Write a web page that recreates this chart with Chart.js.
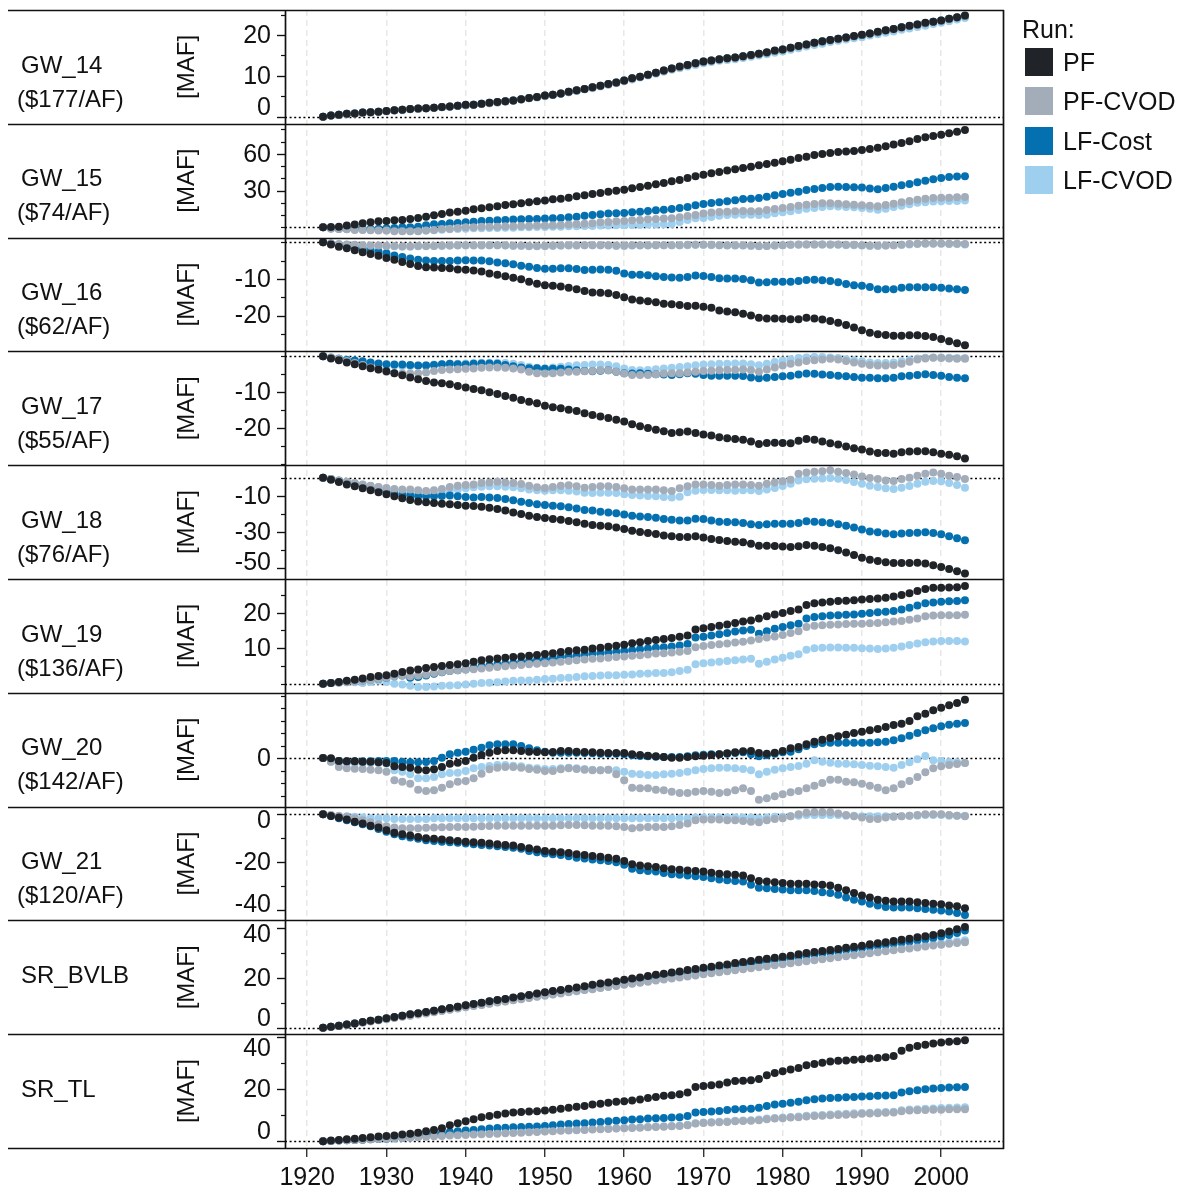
<!DOCTYPE html>
<html>
<head>
<meta charset="utf-8">
<script src="https://cdn.jsdelivr.net/npm/chart.js@4.4.0/dist/chart.umd.min.js"></script>
<style>
  body { margin: 0; background: #fff; }
  #wrap { position: relative; width: 1183px; height: 1189px; }
  #legend { position: absolute; left: 1022px; top: 0; font: 25px "Liberation Sans", Arial, sans-serif; color: #111; }
  #legend .title { position: absolute; left: 0; top: 14px; line-height: 30px; white-space: nowrap; }
  #legend .item { position: absolute; left: 3px; height: 28px; line-height: 28px; white-space: nowrap; }
  #legend .box { display: inline-block; width: 28px; height: 28px; vertical-align: top; margin-right: 10px; }
</style>
</head>
<body>
<div id="wrap">
  <canvas id="chart" width="1183" height="1189"></canvas>
  <div id="legend"></div>
</div>
<script>
// water years 1922-2003
const years = Array.from({ length: 82 }, (_, j) => 1922 + j);
const xTicks = [1920, 1930, 1940, 1950, 1960, 1970, 1980, 1990, 2000];

const runNames = ["PF", "PF-CVOD", "LF-Cost", "LF-CVOD"];
const runColors = ["#202428", "#a3acb9", "#0570b0", "#9ecfee"];

const panelNames = ["GW_14", "GW_15", "GW_16", "GW_17", "GW_18", "GW_19", "GW_20", "GW_21", "SR_BVLB", "SR_TL"];
const panelCosts = ["($177/AF)", "($74/AF)", "($62/AF)", "($55/AF)", "($76/AF)", "($136/AF)", "($142/AF)", "($120/AF)", "", ""];
const yMin = [-1.74, -8.4, -29.8, -30.4, -56.0, -2.56, -19.4, -44.5, -2.6, -2.57];
const yMax = [26.15, 84.5, 1.28, 1.37, 6.9, 29.5, 26.1, 3.2, 43.1, 41.0];
const yLabels = [[0, 10, 20], [30, 60], [-10, -20], [-10, -20], [-10, -30, -50], [10, 20], [0], [0, -20, -40], [0, 20, 40], [0, 20, 40]];
const yMinorStep = [5, 10, 5, 5, 10, 5, 5, 10, 10, 10];

// cumulative change [MAF], one value per year
const gw14_pf = [0.0,0.3,0.5,0.7,0.8,1.0,1.1,1.2,1.4,1.6,
  1.7,1.9,2.0,2.1,2.2,2.4,2.5,2.7,2.9,2.9,
  3.2,3.4,3.6,3.8,4.0,4.3,4.6,4.8,5.2,5.4,
  5.7,6.1,6.5,6.8,7.2,7.6,8.0,8.4,8.9,9.4,
  9.8,10.3,10.8,11.3,11.8,12.3,12.7,13.1,13.5,13.8,
  14.1,14.3,14.5,14.8,15.1,15.4,15.8,16.2,16.5,16.9,
  17.3,17.7,18.1,18.5,18.8,19.1,19.4,19.8,20.1,20.4,
  20.8,21.2,21.5,21.9,22.3,22.6,23.0,23.3,23.6,24.0,
  24.4,24.8];
const gw14_pfcvod = [0.0,0.3,0.5,0.6,0.8,0.9,1.1,1.2,1.4,1.5,
  1.7,1.8,1.9,2.1,2.2,2.3,2.5,2.7,2.8,2.9,
  3.1,3.3,3.5,3.7,4.0,4.2,4.5,4.8,5.1,5.4,
  5.7,6.0,6.4,6.7,7.1,7.5,7.9,8.3,8.8,9.3,
  9.7,10.2,10.7,11.2,11.7,12.1,12.6,13.0,13.4,13.7,
  14.0,14.2,14.4,14.7,15.0,15.3,15.7,16.1,16.4,16.8,
  17.2,17.6,18.0,18.4,18.7,19.0,19.3,19.7,20.0,20.3,
  20.7,21.1,21.4,21.8,22.2,22.5,22.9,23.2,23.5,23.9,
  24.3,24.7];
const gw14_lfcost = [0.0,0.3,0.5,0.7,0.8,1.0,1.1,1.2,1.4,1.6,
  1.7,1.9,2.0,2.1,2.2,2.4,2.5,2.7,2.8,2.9,
  3.2,3.4,3.6,3.8,4.0,4.3,4.6,4.8,5.2,5.4,
  5.7,6.1,6.4,6.8,7.2,7.6,8.0,8.4,8.9,9.4,
  9.8,10.3,10.8,11.3,11.8,12.2,12.7,13.1,13.5,13.8,
  14.0,14.3,14.5,14.8,15.1,15.4,15.7,16.1,16.5,16.9,
  17.3,17.7,18.1,18.4,18.8,19.1,19.4,19.7,20.0,20.4,
  20.7,21.1,21.5,21.9,22.2,22.6,22.9,23.3,23.6,24.0,
  24.3,24.7];
const gw14_lfcvod = [0.0,0.3,0.5,0.6,0.8,0.9,1.1,1.2,1.3,1.5,
  1.6,1.8,1.9,2.0,2.2,2.3,2.4,2.6,2.8,2.9,
  3.1,3.3,3.5,3.7,3.9,4.2,4.5,4.7,5.0,5.3,
  5.6,6.0,6.3,6.7,7.0,7.4,7.8,8.2,8.7,9.1,
  9.6,10.1,10.5,11.0,11.5,11.9,12.3,12.7,13.1,13.4,
  13.7,13.9,14.1,14.4,14.7,15.0,15.3,15.7,16.0,16.4,
  16.8,17.2,17.6,17.9,18.3,18.6,18.9,19.2,19.5,19.9,
  20.2,20.6,20.9,21.3,21.6,22.0,22.3,22.7,23.0,23.4,
  23.8,24.2];

const gw15_pf = [0.0,0.3,0.5,1.4,2.2,3.3,4.1,4.9,5.2,5.7,
  6.0,6.8,7.6,8.7,9.8,10.9,12.0,12.8,13.6,14.7,
  15.5,16.3,17.1,18.2,18.8,19.6,20.4,21.2,21.8,22.9,
  23.4,24.2,25.3,26.1,27.2,28.0,29.1,29.9,30.7,31.8,
  32.9,34.0,35.1,36.2,37.6,38.6,40.3,41.6,43.0,44.1,
  45.2,46.3,47.3,48.4,49.5,50.6,51.7,52.8,53.9,55.2,
  56.6,57.7,59.0,59.9,60.7,61.5,61.8,62.3,63.1,63.9,
  65.0,66.1,67.5,68.8,70.2,72.1,73.5,74.6,75.6,76.7,
  78.1,79.5];
const gw15_pfcvod = [0.0,-1.1,-1.4,-1.6,-2.2,-2.2,-2.4,-2.7,-2.7,-3.3,
  -3.3,-3.3,-3.3,-2.7,-2.2,-1.4,-1.1,-0.5,0.0,0.0,
  0.5,0.5,0.5,0.8,0.8,1.1,1.1,1.4,1.4,1.6,
  1.9,2.2,2.7,3.0,3.3,4.1,4.4,4.9,5.2,5.7,
  6.0,6.5,6.8,7.1,7.3,8.2,9.3,10.1,11.2,12.0,
  12.5,12.8,13.1,13.3,13.1,13.1,14.1,15.0,15.8,16.6,
  17.7,18.5,19.0,19.6,19.6,19.3,18.8,18.5,18.0,17.7,
  17.1,18.2,19.3,20.4,21.5,22.6,23.4,23.9,24.2,24.2,
  24.5,24.8];
const gw15_lfcost = [0.0,-0.8,-1.1,-1.1,-1.1,-1.1,-1.4,-1.1,-0.8,-0.5,
  0.0,0.0,0.5,1.6,2.4,2.7,3.3,3.5,4.1,4.6,
  5.2,5.4,5.7,6.0,6.3,6.5,6.8,6.8,7.1,7.3,
  7.6,8.2,8.7,9.5,10.1,10.6,11.2,11.4,11.7,12.2,
  12.8,13.3,13.9,14.4,15.0,15.8,16.6,18.0,19.0,19.9,
  20.4,21.2,22.0,23.1,23.4,23.9,25.0,26.1,27.2,28.3,
  29.1,30.5,31.3,32.1,32.9,33.2,32.9,32.7,32.4,31.6,
  31.0,32.1,33.2,34.3,35.4,36.7,38.1,39.2,40.3,41.1,
  41.4,41.6];
const gw15_lfcvod = [0.0,-0.8,-1.1,-1.4,-1.6,-1.9,-2.2,-2.4,-2.7,-2.7,
  -3.0,-3.0,-3.0,-2.7,-2.4,-1.9,-1.6,-1.4,-1.1,-0.8,
  -0.8,-0.5,-0.5,-0.3,-0.3,0.0,0.0,0.3,0.3,0.5,
  0.5,0.8,0.8,1.1,1.1,1.4,1.4,1.6,1.6,1.9,
  1.9,2.2,2.2,2.4,2.7,4.4,6.0,7.3,7.6,8.4,
  9.5,10.1,10.3,10.3,10.3,10.1,10.3,11.4,12.2,13.1,
  14.1,15.2,15.8,16.6,17.1,16.9,16.6,16.3,15.8,15.2,
  14.4,15.2,16.6,17.7,18.8,20.0,20.4,21.0,21.2,21.5,
  21.5,21.8];

const gw16_pf = [0.0,-0.6,-1.2,-1.6,-2.2,-2.7,-3.2,-3.7,-4.3,-4.8,
  -5.4,-5.9,-6.5,-6.8,-6.9,-7.0,-7.1,-7.4,-7.5,-7.7,
  -8.0,-8.5,-8.9,-9.3,-9.7,-10.1,-10.8,-11.3,-11.7,-11.9,
  -12.1,-12.4,-12.8,-13.3,-13.7,-13.8,-13.9,-14.4,-15.0,-15.6,
  -15.9,-16.1,-16.4,-16.8,-16.9,-17.1,-17.4,-17.3,-17.6,-17.9,
  -18.6,-18.9,-19.1,-19.5,-20.0,-20.6,-20.8,-20.8,-20.9,-21.0,
  -21.0,-20.6,-20.8,-21.1,-21.5,-22.0,-22.6,-23.3,-24.0,-24.7,
  -25.1,-25.3,-25.5,-25.5,-25.4,-25.4,-25.6,-25.9,-26.4,-27.0,
  -27.6,-28.1];
const gw16_pfcvod = [0.0,-0.3,-0.5,-0.6,-0.7,-0.8,-0.9,-0.9,-1.0,-1.0,
  -1.1,-1.1,-1.0,-1.0,-1.0,-0.9,-0.9,-0.8,-0.8,-0.8,
  -0.8,-0.8,-0.8,-0.8,-0.9,-0.9,-1.0,-1.0,-1.0,-0.9,
  -0.9,-0.8,-0.8,-0.8,-0.8,-0.8,-0.8,-0.9,-0.9,-0.8,
  -0.8,-0.8,-0.8,-0.8,-0.8,-0.8,-0.7,-0.7,-0.7,-0.7,
  -0.8,-0.8,-0.8,-0.8,-0.9,-1.0,-1.0,-0.9,-0.8,-0.7,
  -0.6,-0.6,-0.6,-0.6,-0.6,-0.6,-0.7,-0.7,-0.8,-0.9,
  -0.9,-0.9,-0.8,-0.7,-0.5,-0.4,-0.3,-0.3,-0.3,-0.4,
  -0.4,-0.5];
const gw16_lfcost = [0.0,-0.4,-0.7,-1.1,-1.5,-1.8,-2.2,-2.6,-3.0,-3.6,
  -4.0,-4.4,-4.8,-5.0,-5.1,-5.1,-5.1,-5.0,-4.9,-5.0,
  -5.0,-5.2,-5.5,-5.7,-6.0,-6.4,-6.7,-7.0,-7.2,-7.2,
  -7.1,-7.1,-7.3,-7.6,-7.5,-7.4,-7.5,-7.8,-8.5,-8.9,
  -8.9,-9.0,-9.3,-9.5,-9.6,-9.7,-9.5,-9.1,-9.2,-9.5,
  -9.8,-9.9,-9.9,-10.0,-10.4,-11.0,-10.9,-10.8,-10.8,-10.8,
  -10.6,-10.3,-10.2,-10.4,-10.6,-10.9,-11.4,-11.7,-11.9,-12.2,
  -12.8,-12.8,-12.8,-12.4,-12.3,-12.3,-12.3,-12.3,-12.4,-12.6,
  -12.8,-13.0];
const gw16_lfcvod = [0.0,-0.3,-0.6,-0.7,-0.8,-0.9,-1.0,-1.0,-1.1,-1.1,
  -1.2,-1.2,-1.1,-1.1,-1.0,-1.0,-0.9,-0.9,-0.9,-0.9,
  -0.9,-0.8,-0.8,-0.9,-1.0,-1.0,-1.1,-1.1,-1.0,-1.0,
  -0.9,-0.9,-0.9,-0.8,-0.8,-0.8,-0.9,-1.0,-1.0,-0.9,
  -0.9,-0.9,-0.8,-0.8,-0.8,-0.8,-0.8,-0.7,-0.7,-0.8,
  -0.8,-0.9,-0.9,-0.9,-1.0,-1.1,-1.0,-0.9,-0.8,-0.7,
  -0.7,-0.6,-0.6,-0.6,-0.7,-0.7,-0.8,-0.8,-0.9,-1.0,
  -1.0,-0.9,-0.8,-0.7,-0.6,-0.5,-0.4,-0.4,-0.4,-0.5,
  -0.5,-0.6];

const gw17_pf = [0.0,-0.6,-1.1,-1.7,-2.2,-2.8,-3.3,-3.7,-4.2,-4.7,
  -5.3,-5.9,-6.4,-6.9,-7.3,-7.5,-7.8,-8.3,-8.7,-9.1,
  -9.5,-10.0,-10.5,-11.1,-11.6,-12.2,-12.7,-13.1,-13.8,-14.2,
  -14.5,-14.9,-15.3,-15.9,-16.4,-16.8,-17.2,-17.7,-18.2,-19.0,
  -19.5,-20.0,-20.5,-20.9,-21.4,-21.2,-21.0,-21.4,-21.8,-22.1,
  -22.6,-22.9,-23.1,-23.3,-23.8,-24.5,-24.2,-24.1,-24.2,-24.3,
  -23.6,-23.1,-23.3,-23.8,-24.3,-24.6,-25.2,-25.7,-26.0,-26.6,
  -27.0,-27.0,-27.2,-26.8,-26.6,-26.5,-26.5,-26.8,-27.2,-27.5,
  -27.9,-28.5];
const gw17_pfcvod = [0.0,-0.3,-0.7,-1.3,-1.9,-2.4,-3.1,-3.7,-4.3,-4.7,
  -4.8,-4.8,-4.7,-4.5,-4.1,-3.8,-3.7,-3.6,-3.5,-3.4,
  -3.2,-3.1,-3.1,-3.2,-3.4,-3.7,-4.3,-4.7,-4.8,-4.7,
  -4.5,-4.3,-4.3,-4.2,-4.1,-3.9,-3.9,-4.3,-4.8,-5.2,
  -5.2,-5.2,-5.0,-4.8,-4.7,-4.7,-4.5,-4.3,-4.1,-4.0,
  -3.9,-3.8,-3.8,-3.7,-3.9,-4.3,-3.7,-3.1,-2.6,-2.1,
  -1.7,-1.3,-1.1,-0.9,-0.7,-0.9,-1.3,-1.7,-2.1,-2.4,
  -2.6,-2.6,-2.4,-2.1,-1.5,-0.9,-0.6,-0.4,-0.5,-0.6,
  -0.7,-0.7];
const gw17_lfcost = [0.0,-0.4,-0.7,-1.0,-1.2,-1.4,-1.7,-2.0,-2.2,-2.3,
  -2.3,-2.4,-2.6,-2.6,-2.4,-2.2,-2.1,-2.2,-2.3,-2.1,
  -2.0,-2.0,-2.1,-2.4,-2.8,-3.1,-3.3,-3.3,-3.5,-3.5,
  -3.5,-3.7,-3.9,-4.1,-4.2,-4.0,-3.9,-4.3,-4.7,-4.8,
  -4.7,-4.9,-5.0,-5.1,-5.2,-5.0,-4.7,-4.9,-5.2,-5.4,
  -5.4,-5.4,-5.4,-5.5,-5.9,-6.1,-6.0,-5.8,-5.6,-5.4,
  -5.1,-4.8,-4.9,-5.1,-5.2,-5.4,-5.6,-5.8,-6.0,-6.0,
  -6.1,-6.1,-6.0,-5.6,-5.4,-5.2,-5.0,-5.2,-5.4,-5.8,
  -6.0,-6.1];
const gw17_lfcvod = [0.0,-0.3,-0.6,-0.9,-1.2,-1.5,-1.8,-2.1,-2.4,-2.6,
  -2.7,-2.7,-2.6,-2.5,-2.3,-2.2,-2.1,-2.1,-2.0,-1.9,
  -1.8,-1.8,-1.8,-1.9,-2.1,-2.4,-2.9,-3.2,-3.3,-3.1,
  -2.9,-2.7,-2.5,-2.4,-2.3,-2.3,-2.4,-2.8,-3.4,-3.8,
  -3.9,-3.8,-3.6,-3.4,-3.2,-3.0,-2.8,-2.5,-2.3,-2.2,
  -2.1,-2.1,-2.0,-2.0,-2.2,-2.5,-2.1,-1.6,-1.2,-0.8,
  -0.5,-0.3,-0.2,-0.2,-0.3,-0.5,-0.8,-1.1,-1.4,-1.7,
  -1.9,-1.9,-1.7,-1.4,-1.0,-0.6,-0.4,-0.3,-0.3,-0.4,
  -0.5,-0.5];

const gw18_pf = [0.0,-1.1,-2.4,-3.7,-4.8,-5.9,-7.0,-8.1,-9.2,-10.3,
  -11.4,-12.3,-13.1,-13.6,-14.0,-14.4,-14.7,-15.1,-15.5,-15.7,
  -16.0,-16.6,-17.3,-18.2,-19.2,-20.1,-21.0,-21.7,-22.3,-22.8,
  -23.2,-23.9,-24.7,-25.4,-26.2,-26.5,-26.9,-27.6,-28.4,-29.3,
  -30.0,-30.6,-31.1,-31.9,-32.4,-32.8,-32.8,-32.4,-33.1,-33.9,
  -34.4,-35.0,-35.4,-35.7,-36.5,-37.6,-37.6,-37.8,-38.1,-38.3,
  -37.9,-37.2,-37.6,-38.3,-39.0,-40.1,-41.3,-42.7,-44.2,-45.3,
  -46.0,-46.8,-47.1,-47.1,-47.1,-47.0,-47.5,-48.4,-49.4,-50.5,
  -51.7,-53.0];
const gw18_pfcvod = [0.0,-0.7,-1.5,-2.2,-2.9,-3.7,-4.4,-5.2,-5.7,-6.3,
  -6.6,-6.6,-7.0,-7.4,-7.0,-6.3,-5.2,-4.4,-4.1,-3.7,
  -2.9,-2.6,-2.2,-2.6,-2.9,-3.5,-4.4,-5.3,-5.7,-5.2,
  -4.4,-4.2,-4.8,-5.5,-5.2,-4.8,-4.8,-5.2,-5.9,-6.6,
  -6.6,-6.6,-6.6,-7.0,-7.4,-5.9,-4.8,-3.7,-3.7,-4.1,
  -4.4,-4.1,-3.7,-3.7,-4.1,-4.4,-3.3,-2.6,-2.0,-1.1,
  2.2,2.9,3.3,3.5,4.1,3.3,2.6,1.8,0.7,-0.2,
  -0.7,-1.5,-1.8,-0.7,0.0,1.1,2.2,2.9,2.2,1.1,
  0.4,-0.7];
const gw18_lfcost = [0.0,-0.7,-1.7,-2.6,-3.7,-4.8,-5.9,-7.0,-7.9,-8.8,
  -9.6,-9.9,-10.3,-10.3,-10.3,-10.1,-9.9,-10.3,-10.7,-10.9,
  -10.7,-10.9,-11.2,-11.8,-12.5,-13.3,-14.0,-14.7,-15.1,-15.5,
  -15.8,-16.4,-17.1,-17.9,-18.2,-18.8,-19.2,-19.7,-20.4,-21.0,
  -21.4,-21.7,-22.1,-22.8,-23.2,-23.6,-23.6,-22.7,-22.8,-23.6,
  -24.3,-24.5,-24.7,-25.0,-25.8,-26.2,-25.8,-25.4,-25.4,-25.4,
  -25.0,-24.1,-24.3,-24.7,-25.0,-25.8,-26.5,-27.6,-28.7,-29.7,
  -30.2,-30.9,-31.3,-30.9,-30.6,-30.4,-30.2,-30.6,-31.3,-32.4,
  -33.5,-34.6];
const gw18_lfcvod = [0.0,-0.7,-1.5,-2.4,-3.1,-3.9,-4.6,-5.3,-6.1,-6.8,
  -7.4,-8.1,-8.8,-9.2,-9.0,-8.3,-7.4,-6.6,-5.9,-5.3,
  -5.0,-4.8,-4.8,-5.0,-5.3,-5.9,-6.6,-7.0,-7.2,-7.0,
  -7.0,-7.2,-7.7,-8.3,-8.5,-8.3,-8.3,-8.5,-9.2,-9.6,
  -9.9,-10.1,-10.3,-10.7,-10.9,-10.5,-8.1,-7.2,-6.8,-6.8,
  -7.0,-7.0,-7.2,-7.0,-7.0,-7.4,-6.6,-5.7,-4.6,-3.3,
  -1.5,-0.9,-0.6,-0.4,-0.2,-0.6,-1.3,-2.4,-3.3,-4.4,
  -5.2,-5.9,-6.3,-5.5,-4.6,-3.3,-2.2,-1.8,-2.0,-2.9,
  -4.0,-5.5];

const gw19_pf = [0.0,0.2,0.5,0.8,1.1,1.5,1.9,2.2,2.4,2.8,
  3.3,3.7,4.0,4.4,4.7,5.0,5.3,5.5,5.8,6.2,
  6.6,6.9,7.1,7.3,7.5,7.7,7.9,8.1,8.4,8.6,
  8.9,9.2,9.4,9.6,9.9,10.1,10.4,10.7,11.0,11.4,
  11.7,12.0,12.3,12.6,12.9,13.2,13.6,15.3,15.6,16.0,
  16.3,16.7,17.1,17.5,17.8,18.4,19.0,19.5,19.9,20.5,
  20.9,22.2,22.7,22.9,23.1,23.3,23.4,23.5,23.7,23.9,
  24.0,24.2,24.6,25.0,25.5,26.1,26.7,27.0,27.0,27.1,
  27.2,27.5];
const gw19_pfcvod = [0.0,0.2,0.3,0.4,0.6,0.8,1.0,1.3,1.7,2.1,
  2.3,2.1,2.3,2.6,3.0,3.3,3.6,3.8,3.9,4.1,
  4.3,4.5,4.7,4.9,5.1,5.3,5.5,5.6,5.8,6.0,
  6.2,6.4,6.6,6.8,7.0,7.1,7.3,7.5,7.7,7.9,
  8.0,8.2,8.5,8.6,8.8,9.0,9.2,10.3,10.6,10.9,
  11.1,11.3,11.6,11.8,12.2,12.6,13.0,13.3,13.7,14.3,
  14.8,16.0,16.3,16.5,16.6,16.7,16.8,16.9,16.9,17.0,
  17.1,17.3,17.5,17.7,18.0,18.4,19.0,19.2,19.3,19.3,
  19.3,19.4];
const gw19_lfcost = [0.0,0.2,0.4,0.6,0.8,0.9,1.1,1.3,1.7,2.1,
  2.3,1.7,1.9,2.3,2.8,3.2,3.6,3.8,4.1,4.5,
  4.9,5.1,5.4,5.6,5.8,6.1,6.4,6.6,6.8,7.1,
  7.5,7.7,7.9,8.2,8.5,8.6,8.8,9.0,9.2,9.4,
  9.7,9.9,10.1,10.3,10.5,10.8,11.2,13.0,13.2,13.6,
  13.9,14.3,14.7,15.0,15.2,14.1,14.8,15.5,16.0,16.5,
  16.9,18.4,18.8,19.0,19.2,19.3,19.4,19.5,19.7,19.9,
  20.1,20.3,20.5,20.9,21.4,22.0,22.7,22.9,23.1,23.2,
  23.3,23.5];
const gw19_lfcvod = [0.0,0.2,0.3,0.4,0.4,0.2,0.5,0.8,0.5,0.0,
  -0.2,-0.6,-0.9,-0.9,-0.8,-0.6,-0.5,-0.4,-0.2,0.0,
  0.2,0.3,0.4,0.6,0.8,0.9,0.9,1.1,1.3,1.4,
  1.6,1.7,1.9,2.1,2.2,2.3,2.4,2.4,2.5,2.6,
  2.8,2.9,3.0,3.0,3.2,3.6,3.9,5.5,5.8,6.0,
  6.2,6.4,6.6,6.8,7.0,5.6,6.2,6.8,7.3,7.9,
  8.3,9.6,10.0,10.1,10.2,10.2,10.1,10.1,10.0,9.9,
  9.8,9.9,10.1,10.5,10.9,11.3,11.7,11.9,12.0,12.0,
  12.0,11.9];

const gw20_pf = [0.0,-0.1,-1.2,-1.3,-1.3,-1.5,-1.5,-1.7,-2.0,-3.3,
  -3.6,-3.9,-4.7,-4.9,-4.5,-3.6,-2.3,-1.9,-1.2,0.1,
  1.2,2.1,2.8,3.1,3.1,2.8,2.5,2.4,2.3,2.4,
  2.8,2.8,2.5,2.4,2.3,2.1,2.0,2.0,2.0,1.5,
  1.2,0.9,0.7,0.4,0.1,0.1,0.4,0.7,0.9,1.2,
  1.5,1.9,2.3,2.7,2.8,2.0,1.7,2.1,2.8,3.9,
  4.4,5.5,6.5,7.3,8.0,8.7,9.3,10.0,10.5,11.1,
  11.6,12.4,13.2,13.7,14.8,16.7,17.7,19.1,20.1,21.1,
  22.0,23.3];
const gw20_pfcvod = [0.0,-1.5,-3.6,-4.1,-4.3,-4.4,-4.7,-4.9,-5.5,-8.9,
  -9.5,-10.3,-12.7,-13.2,-12.9,-11.9,-10.5,-9.5,-9.2,-8.1,
  -6.3,-4.5,-3.9,-3.6,-3.6,-3.9,-4.4,-4.7,-5.2,-5.2,
  -4.5,-4.1,-4.4,-4.7,-4.9,-4.9,-4.7,-6.5,-8.9,-11.9,
  -12.1,-12.1,-12.7,-12.9,-13.5,-14.0,-14.0,-13.5,-13.2,-13.5,
  -14.0,-13.7,-12.9,-12.1,-13.2,-16.7,-16.1,-15.3,-14.5,-13.7,
  -13.2,-12.1,-11.1,-10.0,-8.7,-8.7,-9.5,-9.7,-10.3,-11.1,
  -11.9,-12.9,-12.1,-10.5,-9.2,-7.6,-5.7,-4.1,-3.3,-2.8,
  -2.4,-2.0];
const gw20_lfcost = [0.0,-0.5,-1.2,-1.3,-1.3,-1.3,-1.3,-1.2,-1.2,-1.2,
  -1.5,-1.7,-1.7,-1.6,-1.2,0.1,1.5,2.1,2.5,3.3,
  4.1,5.1,5.5,5.5,5.5,4.8,3.9,3.1,2.5,2.1,
  2.1,2.1,2.1,2.0,1.9,1.7,1.7,1.7,1.5,1.1,
  0.8,0.7,0.5,0.4,0.4,0.4,0.7,1.1,1.3,1.5,
  1.5,1.7,2.0,2.3,1.5,0.7,1.1,1.7,2.3,2.5,
  3.5,4.8,5.5,6.0,6.1,6.1,6.1,6.1,6.1,6.1,
  6.3,6.5,7.1,7.9,8.9,10.0,11.1,11.9,12.7,13.3,
  13.7,14.0];
const gw20_lfcvod = [0.0,-1.5,-1.9,-2.0,-2.0,-2.0,-2.0,-2.0,-2.3,-4.9,
  -5.5,-6.5,-8.1,-8.1,-7.6,-6.5,-6.0,-5.9,-5.2,-4.1,
  -3.6,-3.2,-2.8,-2.8,-3.1,-3.3,-3.9,-4.1,-4.4,-4.4,
  -4.1,-3.9,-4.1,-4.4,-4.7,-4.9,-4.7,-4.9,-5.5,-6.3,
  -6.5,-6.8,-6.8,-6.5,-6.3,-6.0,-5.5,-4.9,-4.4,-4.1,
  -3.9,-3.9,-4.1,-4.4,-4.9,-6.5,-5.5,-4.7,-4.1,-3.6,
  -3.2,-2.3,-0.9,-1.5,-1.9,-2.3,-2.3,-2.5,-2.8,-3.1,
  -3.3,-3.6,-3.9,-2.8,-1.7,-0.5,0.8,-0.9,-1.2,-1.6,
  -1.7,-2.0];

const gw21_pf = [0.0,-0.7,-1.4,-2.2,-3.1,-3.9,-4.8,-5.6,-6.7,-7.8,
  -8.4,-8.9,-9.5,-10.1,-10.3,-10.6,-10.9,-11.2,-11.5,-11.7,
  -12.0,-12.3,-12.6,-12.9,-13.1,-13.7,-14.3,-14.8,-15.4,-15.7,
  -15.9,-16.2,-16.8,-17.1,-17.5,-17.8,-18.2,-18.7,-19.6,-21.0,
  -21.5,-21.8,-22.1,-22.6,-23.1,-23.3,-23.6,-23.8,-24.0,-24.5,
  -24.9,-25.2,-25.4,-25.7,-26.8,-28.0,-28.2,-28.5,-28.8,-29.1,
  -29.1,-29.1,-29.4,-29.6,-29.9,-30.8,-31.9,-33.0,-34.1,-34.9,
  -35.8,-36.3,-36.6,-36.6,-36.6,-36.9,-37.2,-37.5,-37.7,-38.3,
  -38.6,-39.4];
const gw21_pfcvod = [0.0,-0.3,-0.7,-1.1,-1.7,-2.5,-3.4,-4.2,-5.0,-5.6,
  -5.9,-5.9,-5.9,-5.7,-5.6,-5.5,-5.3,-5.3,-5.3,-5.2,
  -5.0,-4.9,-4.8,-4.8,-4.8,-4.8,-4.8,-4.8,-4.8,-4.8,
  -4.6,-4.5,-4.5,-4.6,-4.8,-4.8,-4.8,-5.0,-5.3,-5.9,
  -5.6,-5.3,-5.3,-5.3,-5.0,-4.5,-3.9,-2.5,-2.2,-2.2,
  -2.2,-2.5,-2.5,-2.8,-3.1,-3.4,-2.5,-2.0,-1.7,-0.8,
  0.0,0.6,0.8,0.8,0.8,0.3,-0.3,-0.8,-1.4,-2.0,
  -2.0,-1.4,-1.1,-0.8,-0.6,-0.3,0.0,0.0,0.0,-0.3,
  -0.6,-0.8];
const gw21_lfcost = [0.0,-0.7,-1.7,-2.5,-3.4,-4.2,-5.0,-6.2,-7.3,-8.4,
  -9.2,-9.8,-10.3,-10.9,-11.2,-11.5,-11.7,-12.0,-12.3,-12.6,
  -12.9,-13.1,-13.4,-13.7,-14.0,-14.5,-15.4,-15.9,-16.5,-16.8,
  -17.1,-17.6,-18.2,-18.6,-19.0,-19.3,-19.6,-20.1,-21.2,-22.9,
  -23.5,-23.8,-24.0,-24.6,-25.2,-25.4,-25.7,-26.0,-26.3,-26.8,
  -27.4,-27.7,-28.0,-28.2,-29.6,-30.8,-31.0,-31.3,-31.6,-31.9,
  -31.9,-31.9,-32.2,-32.7,-33.0,-33.8,-34.9,-35.8,-36.6,-37.5,
  -38.3,-38.9,-39.1,-39.1,-39.1,-39.4,-39.7,-40.0,-40.3,-40.8,
  -41.4,-42.2];
const gw21_lfcvod = [0.0,-0.3,-0.6,-0.8,-1.1,-1.4,-1.7,-1.7,-1.7,-2.0,
  -2.0,-2.0,-2.0,-2.0,-1.7,-1.7,-1.7,-1.7,-1.7,-1.7,
  -1.7,-1.7,-1.7,-1.7,-1.7,-1.7,-1.7,-1.7,-1.7,-1.7,
  -1.7,-1.7,-1.7,-1.7,-1.7,-1.7,-1.7,-1.7,-1.7,-1.7,
  -1.7,-1.7,-1.7,-1.7,-1.7,-1.7,-1.7,-1.4,-1.4,-1.4,
  -1.4,-1.4,-1.4,-1.4,-1.4,-1.7,-1.4,-1.1,-1.1,-0.8,
  -0.6,-0.3,-0.3,-0.3,-0.3,-0.3,-0.6,-0.6,-0.8,-0.8,
  -0.8,-0.8,-0.8,-0.8,-0.6,-0.6,-0.3,-0.3,-0.3,-0.6,
  -0.6,-0.6];

const bvlb_pf = [0.0,0.4,0.8,1.3,1.7,2.3,2.8,3.2,3.8,4.3,
  4.8,5.4,5.8,6.3,6.8,7.4,7.9,8.4,9.0,9.5,
  10.0,10.6,11.1,11.5,12.1,12.6,13.1,13.7,14.2,14.7,
  15.1,15.7,16.2,16.7,17.3,17.8,18.2,18.7,19.3,19.8,
  20.2,20.8,21.3,21.7,22.2,22.6,23.2,23.6,24.1,24.5,
  25.0,25.4,26.0,26.4,26.8,27.3,27.7,28.1,28.5,28.9,
  29.5,30.0,30.4,30.8,31.2,31.6,32.1,32.5,32.9,33.5,
  33.9,34.3,34.8,35.3,35.7,36.3,36.7,37.2,37.9,38.6,
  39.5,40.4];
const bvlb_pfcvod = [0.0,0.4,0.8,1.2,1.6,2.1,2.5,3.0,3.4,3.9,
  4.4,4.8,5.3,5.7,6.2,6.7,7.2,7.7,8.2,8.7,
  9.1,9.6,10.1,10.5,11.0,11.4,11.9,12.4,12.8,13.3,
  13.7,14.2,14.6,15.1,15.5,16.0,16.4,16.8,17.3,17.7,
  18.1,18.5,19.0,19.4,19.8,20.2,20.6,21.0,21.5,21.9,
  22.3,22.7,23.1,23.5,23.9,24.3,24.7,25.1,25.5,25.9,
  26.3,26.7,27.1,27.5,27.9,28.3,28.7,29.1,29.5,29.9,
  30.3,30.7,31.1,31.5,31.8,32.2,32.6,33.0,33.3,33.7,
  34.0,34.3];
const bvlb_lfcost = [0.0,0.4,0.8,1.3,1.7,2.2,2.8,3.2,3.7,4.2,
  4.8,5.3,5.7,6.2,6.8,7.3,7.8,8.4,8.9,9.4,
  9.9,10.5,11.0,11.4,11.9,12.4,13.0,13.5,14.0,14.5,
  14.9,15.4,15.9,16.4,16.9,17.4,17.8,18.3,18.8,19.3,
  19.7,20.2,20.7,21.1,21.6,22.0,22.5,22.9,23.4,23.8,
  24.3,24.7,25.2,25.6,26.0,26.5,26.9,27.3,27.7,28.1,
  28.6,29.1,29.5,29.9,30.3,30.7,31.2,31.6,32.0,32.5,
  32.9,33.3,33.8,34.2,34.6,35.1,35.5,36.0,36.6,37.2,
  38.0,39.0];
const bvlb_lfcvod = [0.0,0.4,0.8,1.2,1.7,2.1,2.6,3.0,3.5,4.0,
  4.5,4.9,5.4,5.9,6.3,6.8,7.3,7.8,8.3,8.8,
  9.2,9.7,10.2,10.6,11.1,11.6,12.0,12.5,13.0,13.4,
  13.9,14.3,14.8,15.2,15.7,16.1,16.6,17.0,17.5,17.9,
  18.3,18.8,19.2,19.6,20.1,20.5,20.9,21.4,21.8,22.2,
  22.6,23.0,23.5,23.9,24.3,24.7,25.1,25.5,25.9,26.3,
  26.7,27.1,27.5,27.9,28.3,28.7,29.1,29.5,29.9,30.3,
  30.7,31.1,31.5,31.9,32.3,32.7,33.1,33.5,33.9,34.3,
  34.7,35.1];

const tl_pf = [0.0,0.3,0.5,0.8,1.0,1.3,1.5,1.8,2.0,2.2,
  2.6,2.9,3.3,3.8,4.3,5.0,6.1,6.9,7.7,8.4,
  9.2,9.7,10.2,10.6,11.0,11.2,11.4,11.5,11.8,12.1,
  12.5,12.8,13.2,13.5,14.1,14.4,14.8,15.1,15.3,15.6,
  16.0,16.6,17.0,17.4,17.6,18.0,18.7,20.8,21.2,21.5,
  21.7,22.5,23.1,23.2,23.4,23.8,25.3,26.1,26.8,27.5,
  28.1,29.1,29.6,30.1,30.5,30.8,30.9,31.2,31.4,31.7,
  31.9,32.2,32.7,34.7,35.8,36.5,37.0,37.4,37.8,38.1,
  38.3,38.7];
const tl_pfcvod = [0.0,0.1,0.3,0.4,0.5,0.6,0.8,0.9,1.0,1.2,
  1.3,1.4,1.5,1.7,1.9,2.0,2.2,2.3,2.4,2.6,
  2.7,2.8,2.9,3.1,3.2,3.3,3.5,3.6,3.7,3.8,
  4.0,4.1,4.2,4.3,4.5,4.6,4.7,4.9,5.0,5.1,
  5.2,5.4,5.5,5.6,5.8,5.9,6.1,6.8,7.0,7.2,
  7.3,7.4,7.7,7.8,7.9,8.1,8.4,8.7,8.8,9.1,
  9.2,9.5,9.7,9.8,10.0,10.1,10.2,10.3,10.5,10.6,
  10.7,10.9,11.0,11.5,11.8,11.9,12.0,12.1,12.1,12.3,
  12.3,12.3];
const tl_lfcost = [0.0,0.1,0.3,0.4,0.5,0.6,0.8,0.9,1.0,1.2,
  1.3,1.5,1.8,2.2,2.7,3.1,3.6,3.8,4.1,4.3,
  4.6,4.9,5.1,5.2,5.4,5.5,5.6,5.7,5.9,6.1,
  6.4,6.6,6.8,6.9,7.2,7.4,7.7,7.9,8.1,8.3,
  8.4,8.7,8.8,8.9,9.1,9.2,9.7,11.0,11.2,11.4,
  11.6,12.0,12.3,12.4,12.5,12.8,13.5,14.1,14.4,14.8,
  15.1,15.7,16.1,16.4,16.6,16.7,16.9,17.0,17.1,17.2,
  17.4,17.5,17.6,18.7,19.2,19.5,19.9,20.2,20.4,20.6,
  20.7,20.8];
const tl_lfcvod = [0.0,0.1,0.3,0.4,0.5,0.6,0.8,0.9,1.0,1.2,
  1.3,1.5,1.7,1.9,2.1,2.3,2.5,2.6,2.8,2.9,
  3.0,3.2,3.3,3.4,3.5,3.6,3.7,3.8,3.9,4.0,
  4.2,4.3,4.4,4.5,4.7,4.8,4.9,5.0,5.2,5.3,
  5.4,5.5,5.7,5.8,5.9,6.0,6.3,6.9,7.2,7.3,
  7.5,7.6,7.9,8.0,8.1,8.3,8.7,8.9,9.1,9.3,
  9.5,9.8,10.0,10.1,10.3,10.4,10.5,10.7,10.8,10.9,
  11.1,11.2,11.3,11.9,12.2,12.3,12.5,12.6,12.7,12.8,
  12.9,13.0];

const panelSeries = [
  [gw14_pf, gw14_pfcvod, gw14_lfcost, gw14_lfcvod],
  [gw15_pf, gw15_pfcvod, gw15_lfcost, gw15_lfcvod],
  [gw16_pf, gw16_pfcvod, gw16_lfcost, gw16_lfcvod],
  [gw17_pf, gw17_pfcvod, gw17_lfcost, gw17_lfcvod],
  [gw18_pf, gw18_pfcvod, gw18_lfcost, gw18_lfcvod],
  [gw19_pf, gw19_pfcvod, gw19_lfcost, gw19_lfcvod],
  [gw20_pf, gw20_pfcvod, gw20_lfcost, gw20_lfcvod],
  [gw21_pf, gw21_pfcvod, gw21_lfcost, gw21_lfcvod],
  [bvlb_pf, bvlb_pfcvod, bvlb_lfcost, bvlb_lfcvod],
  [tl_pf, tl_pfcvod, tl_lfcost, tl_lfcvod],
];

const FONT = '"Liberation Sans", Arial, sans-serif';
const panelIds = panelNames.map((_, i) => "p" + i);

// zero lines, y ticks, strip labels and panel frames
const panelDecor = {
  id: "panelDecor",
  beforeDatasetsDraw(chart) {
    const { ctx, chartArea } = chart;
    ctx.save();
    ctx.strokeStyle = "#000";
    ctx.lineWidth = 1.6;
    ctx.setLineDash([2, 2.6]);
    panelIds.forEach((id) => {
      const s = chart.scales[id];
      const y = Math.round(s.getPixelForValue(0)) + 0.5;
      ctx.beginPath();
      ctx.moveTo(chartArea.left, y);
      ctx.lineTo(chartArea.right, y);
      ctx.stroke();
    });
    ctx.restore();
  },
  afterDraw(chart) {
    const { ctx, chartArea } = chart;
    const L = chartArea.left;
    ctx.save();
    ctx.fillStyle = "#111";
    ctx.strokeStyle = "#111";
    panelIds.forEach((id, i) => {
      const s = chart.scales[id];
      const mid = (s.top + s.bottom) / 2;

      // tick marks
      ctx.lineWidth = 1.2;
      const step = yMinorStep[i];
      for (let v = Math.ceil(s.min / step) * step; v <= s.max + 1e-9; v += step) {
        const y = Math.round(s.getPixelForValue(v)) + 0.5;
        const len = yLabels[i].some((t) => Math.abs(t - v) < 1e-6) ? 8 : 4;
        ctx.beginPath();
        ctx.moveTo(L - len, y);
        ctx.lineTo(L, y);
        ctx.stroke();
      }
      yLabels[i].forEach((t) => {
        const y = s.getPixelForValue(t);
        if (y < s.top - 0.5 || y > s.bottom + 0.5) return;
        ctx.beginPath();
        ctx.moveTo(L - 8, Math.round(y) + 0.5);
        ctx.lineTo(L, Math.round(y) + 0.5);
        ctx.stroke();
      });

      // tick labels, kept inside the panel
      ctx.font = "25px " + FONT;
      ctx.textAlign = "right";
      ctx.textBaseline = "middle";
      yLabels[i].forEach((t) => {
        const y = Math.min(Math.max(s.getPixelForValue(t), s.top + 14), s.bottom - 16.5);
        ctx.fillText(String(t), L - 14, y + 1);
      });

      // unit label
      ctx.save();
      ctx.font = "24px " + FONT;
      ctx.textAlign = "center";
      ctx.translate(187, mid);
      ctx.rotate(-Math.PI / 2);
      ctx.fillText("[MAF]", 0, 0);
      ctx.restore();

      // strip label
      ctx.font = "24px " + FONT;
      ctx.textAlign = "left";
      ctx.fillText(panelNames[i], 21, mid - 1);
      if (panelCosts[i]) ctx.fillText(panelCosts[i], 17, mid + 33);

      // separators
      ctx.lineWidth = 1.7;
      ctx.beginPath();
      ctx.moveTo(8, Math.round(s.top) + 0.5);
      ctx.lineTo(chartArea.right + 1, Math.round(s.top) + 0.5);
      ctx.stroke();
    });
    ctx.lineWidth = 1.7;
    ctx.beginPath();
    ctx.moveTo(8, Math.round(chartArea.bottom) + 0.5);
    ctx.lineTo(chartArea.right + 1, Math.round(chartArea.bottom) + 0.5);
    ctx.moveTo(L + 0.5, chartArea.top);
    ctx.lineTo(L + 0.5, chartArea.bottom + 1);
    ctx.moveTo(chartArea.right + 0.5, chartArea.top);
    ctx.lineTo(chartArea.right + 0.5, chartArea.bottom + 1);
    ctx.stroke();
    ctx.restore();
  },
};

const datasets = [];
panelSeries.forEach((series, i) => {
  series.forEach((vals, r) => {
    datasets.push({
      label: panelNames[i] + " " + runNames[r],
      yAxisID: panelIds[i],
      xAxisID: "x",
      data: years.map((yr, j) => ({ x: yr, y: vals[j] })),
      showLine: false,
      pointRadius: 4,
      pointHoverRadius: 4,
      pointBorderWidth: 0,
      pointBackgroundColor: runColors[r],
      pointBorderColor: runColors[r],
    });
  });
});

const scales = {
  x: {
    type: "linear",
    position: "bottom",
    min: 1917.2,
    max: 2007.8,
    afterBuildTicks: (s) => { s.ticks = xTicks.map((v) => ({ value: v })); },
    afterFit: (s) => { s.height = 41; },
    grid: { color: "#e8e8e8", lineWidth: 1.5, tickColor: "#111", tickWidth: 1.2, tickLength: 9 },
    border: { display: false, dash: [6, 4] },
    ticks: { color: "#111", font: { family: FONT, size: 25 }, padding: 6, maxRotation: 0, autoSkip: false, callback: (v) => String(v) },
  },
};
panelIds.forEach((id, i) => {
  scales[id] = {
    type: "linear",
    position: "left",
    stack: "panels",
    stackWeight: 1,
    weight: panelIds.length - i,
    min: yMin[i],
    max: yMax[i],
    grid: { display: false },
    border: { display: false },
    ticks: { display: false },
    afterFit: (s) => { s.width = 285; },
  };
});

new Chart(document.getElementById("chart"), {
  type: "scatter",
  data: { datasets },
  options: {
    responsive: false,
    devicePixelRatio: 1,
    animation: false,
    events: [],
    layout: { padding: { left: 0, top: 10, right: 180, bottom: 0 } },
    scales,
    plugins: { legend: { display: false }, tooltip: { enabled: false } },
  },
  plugins: [panelDecor],
});

// legend
const legend = document.getElementById("legend");
legend.innerHTML = '<div class="title">Run:</div>' + runNames.map((n, r) =>
  '<div class="item" style="top:' + (48 + r * 39.3) + 'px"><span class="box" style="background:' + runColors[r] + '"></span>' + n + '</div>'
).join("");
</script>
</body>
</html>
